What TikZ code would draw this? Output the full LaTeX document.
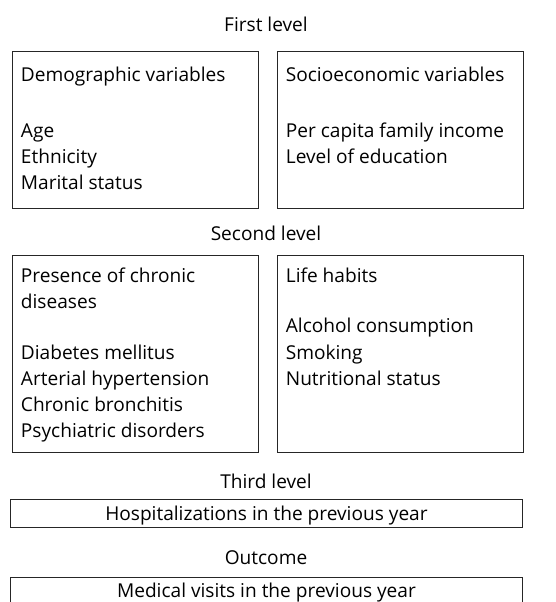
\documentclass[tikz,border=0pt]{standalone}
\usepackage{fontspec}
\setmainfont{Open Sans}
\usetikzlibrary{positioning}
\tikzstyle{level} = [
	anchor=base,
	inner sep=0pt]
\tikzstyle{varbox} = [
	draw=black!85,
	line width=0.9pt,
	inner xsep=8.5pt,
	inner ysep=0pt,
	anchor=north west]
\tikzstyle{widebox} = [
	draw=black!85,
	line width=0.9pt,
	minimum width=512pt,
	anchor=north west]
% text of a variable box: height, first baseline, lines
\newcommand{\boxtext}[3]{\parbox[t][#1][t]{229pt}{\rule{0pt}{#2}#3}}

\begin{document}
\begin{tikzpicture}[x=1pt, y=-1pt, font=\fontsize{19.1pt}{26.3pt}\selectfont]
\useasboundingbox (0,0) rectangle (555,602);

% --- First level ---
\node (first) [level] at (266,31.7) {First level};
\node (demo) [varbox] at (12,51.5) {\boxtext{156.5pt}{30pt}{Demographic variables\\[29pt] Age\\ Ethnicity\\ Marital status}};
\node (socio) [varbox, right=18pt of demo] {\boxtext{156.5pt}{30pt}{Socioeconomic variables\\[29pt] Per capita family income\\ Level of education}};

% --- Second level ---
\node (second) [level] at (266,240.5) {Second level};
\node (chronic) [varbox] at (12,255) {\boxtext{197pt}{27pt}{Presence of chronic\\ diseases\\[24pt] Diabetes mellitus\\ Arterial hypertension\\ Chronic bronchitis\\ Psychiatric disorders}};
\node (habits) [varbox, right=18pt of chronic] {\boxtext{197pt}{27pt}{Life habits\\[24pt] Alcohol consumption\\ Smoking\\ Nutritional status}};

% --- Third level ---
\node (third) [level] at (266,488.3) {Third level};
\node (hosp) [widebox, minimum height=27.5pt, text depth=0pt] at (10,499) {Hospitalizations in the previous year};

% --- Outcome ---
\node (outcome) [level] at (266,564) {Outcome};
\node (visits) [widebox, inner ysep=5.2pt] at (10,577) {Medical visits in the previous year};

\end{tikzpicture}
\end{document}
